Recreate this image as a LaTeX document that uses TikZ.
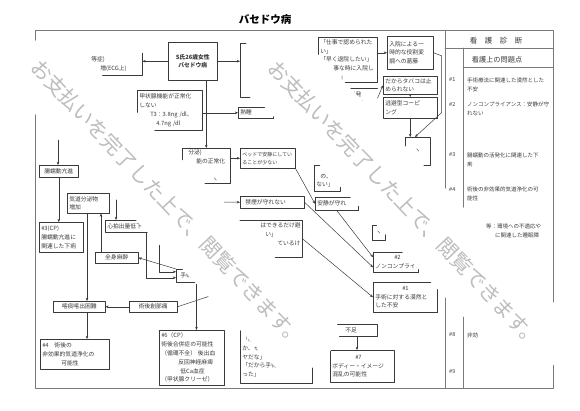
\documentclass[tikz,border=0pt]{standalone}
\usepackage{fontspec}
\setmainfont{Noto Sans CJK JP}
\usetikzlibrary{arrows.meta,calc,shadows,positioning}
\definecolor{ink}{HTML}{3A3A3A}
\definecolor{rule}{HTML}{7A7A7A}
\definecolor{wmgray}{HTML}{BDBDBD}
\newcommand\dgfont{\fontsize{5.8}{8.8}\selectfont}
\newcommand\wmfont{\fontsize{20.5}{20.5}\selectfont}
\newcommand\wmtxt{お支払いを完了した上で、閲覧できます。}
\tikzset{
  every picture/.style={line join=round, line cap=round, >={Stealth[length=3.2pt,width=2.6pt]}},
  box/.style={draw=ink, line width=0.5pt, fill=white, anchor=north west, inner xsep=2pt, inner ysep=0pt, align=left, font=\dgfont, text=ink},
  shbox/.style={box, drop shadow={shadow xshift=1.2pt, shadow yshift=-1.2pt, fill=black!55, opacity=1}},
  bare/.style={box, draw=none, fill=none},
  link/.style={->, draw=ink, line width=0.5pt},
  frame/.style={draw=rule, line width=1pt},
  diag/.style={font=\fontsize{5.5}{9}\selectfont, text=ink, align=left, inner sep=0pt},
  wm/.style={rotate=-46.5, font=\wmfont, inner sep=0pt, text=wmgray},
  band/.style={fill=white, rotate=-46.5, minimum width=428pt, minimum height=75pt, rounded corners=20pt, inner sep=0pt},
}

\begin{document}
\begin{tikzpicture}[x=1pt,y=-1pt]
\useasboundingbox (0,0) rectangle (580,410);
\node[font=\fontsize{10.5}{12}\selectfont\bfseries] (title) at (265,20) {バセドウ病};
% frame and right panel
\draw[frame] (35,30) rectangle (553,388);
\draw[frame] (445,30) -- (445,388);
\draw[frame] (463,48) -- (463,388);
\draw[frame] (445,48) -- (553,48);
\draw[frame] (463,67) -- (553,67);
\node[font=\fontsize{7.5}{8}\selectfont, text=ink] (hdr) at (496,41) {看　護　診　断};
\node[font=\fontsize{7.2}{8}\selectfont, text=ink] (sub) at (497,60) {看護上の問題点};
\foreach \n/\y/\t in {1/80/{手術療法に関連した漠然とした\\不安}, 2/104/{ノンコンプライアンス：安静が守\\れない},
                      3/155/{腸蠕動の活発化に関連した下\\痢}, 4/189/{術後の非効果的気道浄化の可\\能性}}{
  \node[diag, anchor=west] (no\n) at (449,\y) {\#\n};
  \node[diag, anchor=north west] (pr\n) at (467,\y-2.8) {\t};
}
\node[diag, anchor=north west] (pr5) at (486,224) {等：環境への不適応や\\\hspace*{9pt}に関連した睡眠障};
\node[diag, anchor=west] (no8) at (449,335) {\#8};
\node[diag, anchor=west] (pr8) at (467,335) {非効};
\node[diag, anchor=west] (no9) at (449,372) {\#9};

% upper part
\node[shbox, text width=45pt, minimum height=38pt, align=center, font={\dgfont\bfseries}] (pt) at (168,42) {S氏26歳女性\\バセドウ病};
\node[bare, text width=53pt, minimum height=22pt] (eq) at (85,53) {\hspace*{4pt}等症)\\\hspace*{13pt}増(ECG上)};
\draw[ink, line width=0.5pt] (eq.north east) -- (eq.south east) -- (eq.south west);
\node[bare, minimum width=50pt, minimum height=54pt] (role) at (240,43) {};
\draw[ink, line width=0.5pt] ([xshift=6pt]role.north west) -- (role.north west) -- (role.south west) -- ([xshift=10pt]role.south west);
\node[box, text width=55pt, minimum height=45pt] (work) at (318,37) {「仕事で認められた\\い」\\「早く退院したい」\\\hspace*{13pt}事な時に入院し\\\hspace*{20pt}」};
\node[box, text width=42pt, minimum height=33pt] (conflict) at (387,36) {入院による一\\時的な役割変\\調への葛藤};
\node[bare, text width=43pt, minimum height=20pt] (vent) at (330,88) {\hspace*{12pt}って発\\\hspace*{25pt}な};
\draw[ink, line width=0.5pt] (vent.north west) -- (vent.north east);
\node[box, text width=50pt, minimum height=18pt] (smoke) at (383,76) {だからタバコは止\\められない};
\node[box, text width=50pt, minimum height=21pt] (escape) at (383,97) {逃避型コーピ\\ング};
\node[box, minimum width=25pt, minimum height=28pt] (impulse) at (405,137) {ヽ};
\node[shbox, text width=61pt, minimum height=40pt] (thyroid) at (137,90) {甲状腺機能が正常化\\しない\\\hspace*{11pt}T3：3.8ng /dl、\\\hspace*{17pt}4.7ng /dl};
\node[box, text width=31pt, minimum height=11pt] (sleep) at (238,107) {熟睡};
\node[box, text width=44pt, minimum height=35pt] (normal) at (182,148) {\hspace*{4pt}分泌)\\\hspace*{12pt}能の正常化\\\mbox{}\\\hspace*{28pt}ヽ};
\node[shbox, text width=51pt, minimum height=20pt, font=\fontsize{5}{8}\selectfont] (bed) at (240,148) {ベッドで安静にしてい\\ることが少ない};
\node[box, text width=22pt, minimum height=26pt] (say) at (314,165) {\mbox{}\\\hspace*{4pt}の、\\ない」};
\node[shbox, text width=39pt, minimum height=13pt] (rest) at (315,197) {安静が守れ};
\node[shbox, text width=60pt, minimum height=12pt] (quit) at (240,196) {\hspace*{3pt}禁煙が守れない};
\node[box, text width=66pt, minimum height=37pt] (avoid) at (232,220) {\hspace*{26pt}はできるだけ避\\\hspace*{31pt}い」\\\hspace*{43pt}ているけ\\\mbox{}};
\node[box, minimum width=13pt, minimum height=15pt] (frag) at (372,225) {ヽ};
\node[shbox, text width=41pt, minimum height=20pt] (nc) at (373,252) {\hspace*{19pt}\#2\\ノンコンプライアンス};
\node[shbox, text width=60pt, minimum height=30pt] (anx) at (373,282) {\hspace*{27pt}\#1\\手術に対する漠然と\\した不安};

% lower part
\node[box, text width=35pt, minimum height=12pt, align=center] (peri) at (39,165) {腸蠕動亢進};
\node[shbox, text width=40pt, minimum height=30pt] (diar) at (39,222) {\#3(CP)\\腸蠕動亢進に\\関連した下痢};
\node[shbox, text width=38pt, minimum height=20pt] (secr) at (67,193) {気道分泌物\\増加};
\node[shbox, text width=38pt, minimum height=12pt] (cardiac) at (105,220) {心拍出量低下};
\node[box, text width=19pt, minimum height=13pt] (op) at (176,269) {\hspace*{2pt}手術};
\node[shbox, text width=39pt, minimum height=11pt, align=center] (anes) at (95,252) {全身麻酔};
\node[box, text width=48pt, minimum height=11pt, align=center] (sputum) at (53,301) {喀痰喀出困難};
\node[box, text width=44pt, minimum height=11pt, align=center] (pain) at (129,301) {術後創部痛};
\node[shbox, text width=65pt, minimum height=30pt] (airway) at (40,339) {\#4　術後の\\非効果的気道浄化の\\\hspace*{19pt}可能性};
\node[shbox, text width=61pt, minimum height=55pt] (comp) at (159,330) {\#6（CP）\\術後合併症の可能性\\（循環不全） 後出血\\\hspace*{17pt}反回神経麻痺\\\hspace*{19pt}低Ca血症\\（甲状腺クリーゼ）};
\node[shbox, text width=68pt, minimum height=58pt] (voice) at (240,325) {。\\「痛い\\か、その\\ヤだな」\\「だから手術は\\った」};
\node[box, text width=53pt, minimum height=12pt] (lack) at (320,324) {\hspace*{23pt}不足};
\node[shbox, text width=60pt, minimum height=32pt] (body) at (330,350) {\hspace*{23pt}\#7\\ボディー・イメージ\\混乱の可能性};
\coordinate (peri in) at (58,140);
\coordinate (card in) at (116,198);
\coordinate (vol in) at (159,242);
\coordinate (pain out) at (213,295);
\coordinate (quit in) at (224,202);

% connectors
\draw[link] (pt.west) -- (pt.west -| eq.east);
\draw[link] (pt.east) -- (pt.east -| role.west);
\draw[link] (work.east |- conflict.west) -- (conflict.west);
\draw[link] (vent.east) -- (smoke.west);
\draw[link] (smoke.south) -- (escape.north);
\draw[link] (escape.south) -- (escape.south |- impulse.north);
\draw[link] (conflict.east) -- ++(8,3) -- ++(0,57) -- ([xshift=10pt]impulse.north west);
\draw[link] (pt.south -| normal.north) -- (normal.north);
\draw[link] (thyroid.east |- sleep.west) -- (sleep.west);
\draw[link] (normal.east |- bed.west) -- (bed.west);
\draw[link] (bed.south east) -- (rest.west);
\draw[link] (quit in) -- (quit.west);
\draw[link] (rest.south) -- ([yshift=5pt]nc.west);
\draw[link] (quit.east) -- ([yshift=-5pt]nc.west);
\draw[link] (avoid.east) -- (anx.west);
\draw[link] (peri in) -- (peri in |- peri.north);
\draw[link] (peri.south) -- (peri.south |- diar.north);
\draw[link] (card in) -- (card in |- cardiac.north);
\draw[link] ([xshift=-1pt]cardiac.south east) |- ([yshift=-2pt]op.west);
\draw[link] (vol in) |- ([yshift=4pt]op.west);
\draw[link] (op.north west) -- (anes.east);
\draw[link] ([xshift=6pt]anes.north west) -- ([xshift=6pt]anes.north west |- secr.south);
\draw[link] ([xshift=20pt]secr.south west) -- ([xshift=20pt]secr.south west |- sputum.north);
\draw[link] ([xshift=34pt]sputum.south west) -- ([xshift=34pt]sputum.south west |- airway.north);
\draw[link] (pain.west) -- (sputum.east);
\draw[ink, line width=0.5pt] (pain.east) -- (pain out);
\draw[link] ([xshift=-3pt]op.south east) -- ([xshift=-3pt]op.south east |- comp.north);
\draw[link] ([xshift=37pt]lack.south west) -- ([xshift=37pt]lack.south west |- body.north);

% watermark
\foreach \cx/\cy in {168/203, 405/204}{
  \node[band] at ($(\cx,\cy)+(5.2,1.9)$) {};
  \node[wm] at (\cx,\cy) {\wmtxt};
}
\end{tikzpicture}
\end{document}
